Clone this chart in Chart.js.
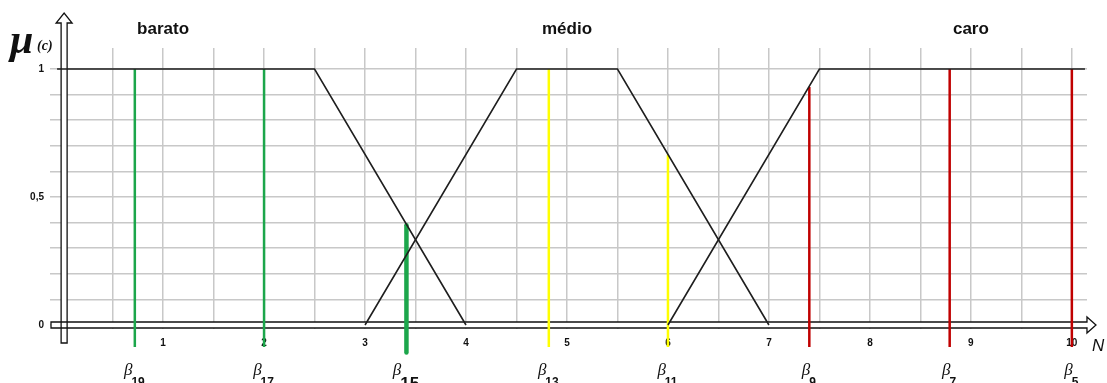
<!DOCTYPE html>
<html>
<head>
<meta charset="utf-8">
<script src="https://cdn.jsdelivr.net/npm/chart.js@4/dist/chart.umd.min.js"></script>
<style>
    html, body { margin: 0; padding: 0; background: #fff; }
</style>
</head>
<body>
<canvas id="fuzzy" width="1107" height="383"></canvas>
<script>
// fuzzy sets: [N, degree]
const setNames = ['barato', 'médio', 'caro'];
const setTitleAt = [1, 5, 9];
const baratoPts = [[-0.05, 1], [2.5, 1], [4, 0]];
const medioPts = [[3, 0], [4.5, 1], [5.5, 1], [7, 0]];
const caroPts = [[6, 0], [7.5, 1], [10.13, 1]];

// beta cuts
const betaNames = ['19', '17', '15', '13', '11', '9', '7', '5'];
const betaX = [0.72, 2.0, 3.41, 4.82, 6.0, 7.4, 8.79, 10.0];
const betaDegree = [1, 1, 0.39, 1, 0.665, 0.93, 1, 1];

// tick labels
const xTickValues = [1, 2, 3, 4, 5, 6, 7, 8, 9, 10];
const xTickText = ['1', '2', '3', '4', '5', '6', '7', '8', '9', '10'];
const yTickValues = [0, 0.5, 1];
const yTickText = ['0', '0,5', '1'];

// styles
const GREEN = '#1ca64b', YELLOW = '#ffff00', RED = '#c00000';
const betaColors = [GREEN, GREEN, GREEN, YELLOW, YELLOW, RED, RED, RED];
const betaWidths = [2.5, 2.5, 4.5, 2.5, 2.5, 2.5, 2.5, 2.5];
const STEM_END = -0.086;
const STEM_END_BIG = -0.107;

function findLabel(values, texts, v) {
    const i = values.findIndex(t => Math.abs(t - v) < 1e-6);
    return i < 0 ? '' : texts[i];
}

const toXY = pts => pts.map(p => ({ x: p[0], y: p[1] }));

const setDatasets = [baratoPts, medioPts, caroPts].map((pts, i) => ({
    label: setNames[i],
    data: toXY(pts),
    borderColor: '#1e1e1e',
    borderWidth: 1.6,
    pointRadius: 0,
    tension: 0,
    clip: false
}));

const betaDatasets = betaX.map((x, i) => ({
    label: 'beta' + betaNames[i],
    data: [
        { x: x, y: betaWidths[i] > 3 ? STEM_END_BIG : STEM_END },
        { x: x, y: betaDegree[i] }
    ],
    borderColor: betaColors[i],
    borderWidth: betaWidths[i],
    borderCapStyle: betaWidths[i] > 3 ? 'round' : 'butt',
    pointRadius: 0,
    clip: false
}));

// double-line axes with open arrow heads
const axesPlugin = {
    id: 'axes',
    beforeDatasetsDraw(chart) {
        const ctx = chart.ctx;
        const xs = chart.scales.x, ys = chart.scales.y;
        const ax = xs.getPixelForValue(0) + 2;
        const ay = ys.getPixelForValue(0);
        const right = xs.getPixelForValue(10.13);

        const yAxis = new Path2D();
        yAxis.moveTo(ax - 3, ay + 18);
        yAxis.lineTo(ax - 3, 23);
        yAxis.lineTo(ax - 8, 23);
        yAxis.lineTo(ax, 13);
        yAxis.lineTo(ax + 8, 23);
        yAxis.lineTo(ax + 3, 23);
        yAxis.lineTo(ax + 3, ay + 18);
        yAxis.closePath();

        const xAxis = new Path2D();
        xAxis.moveTo(chart.chartArea.left + 1, ay - 3);
        xAxis.lineTo(right + 2, ay - 3);
        xAxis.lineTo(right + 2, ay - 8);
        xAxis.lineTo(right + 11, ay);
        xAxis.lineTo(right + 2, ay + 8);
        xAxis.lineTo(right + 2, ay + 3);
        xAxis.lineTo(chart.chartArea.left + 1, ay + 3);
        xAxis.closePath();

        ctx.save();
        ctx.fillStyle = '#fff';
        ctx.strokeStyle = '#111';
        ctx.lineWidth = 1.3;
        ctx.fill(yAxis);
        ctx.fill(xAxis);
        ctx.stroke(yAxis);
        ctx.stroke(xAxis);
        ctx.restore();
    }
};

// set titles, beta labels, axis names
const textPlugin = {
    id: 'texts',
    afterDraw(chart) {
        const ctx = chart.ctx;
        const xs = chart.scales.x;
        ctx.save();
        ctx.fillStyle = '#111';

        ctx.font = 'bold 17px "Liberation Sans", Arial, sans-serif';
        ctx.textAlign = 'center';
        ctx.textBaseline = 'middle';
        setNames.forEach((name, i) => {
            ctx.fillText(name, xs.getPixelForValue(setTitleAt[i]), 29);
        });

        ctx.textAlign = 'left';
        ctx.textBaseline = 'alphabetic';
        betaNames.forEach((sub, i) => {
            const px = xs.getPixelForValue(betaX[i]);
            const big = betaWidths[i] > 3;
            const betaFont = 'italic 17px "Liberation Serif", "DejaVu Serif", serif';
            const subFont = big ? 'bold 17px "Liberation Sans", Arial, sans-serif'
                                : 'bold 12px "Liberation Sans", Arial, sans-serif';
            ctx.font = betaFont;
            const bw = ctx.measureText('β').width;
            ctx.font = subFont;
            const sw = ctx.measureText(sub).width;
            const start = px - (bw + sw) / 2;
            ctx.font = betaFont;
            ctx.fillText('β', start, 375);
            ctx.font = subFont;
            ctx.fillText(sub, start + bw - 1, big ? 389 : 386);
        });

        ctx.font = 'italic bold 42px "Liberation Serif", "DejaVu Serif", serif';
        ctx.fillText('μ', 10, 53);
        ctx.font = 'italic bold 14px "Liberation Serif", "DejaVu Serif", serif';
        ctx.fillText('(c)', 37, 50);

        ctx.font = 'italic 17px "Liberation Sans", Arial, sans-serif';
        ctx.fillText('N', 1092, 351);
        ctx.restore();
    }
};

new Chart(document.getElementById('fuzzy'), {
    type: 'line',
    data: { datasets: setDatasets.concat(betaDatasets) },
    options: {
        responsive: false,
        animation: false,
        devicePixelRatio: 1,
        layout: { padding: { top: 48, right: 20, bottom: 0, left: 0 } },
        plugins: {
            legend: { display: false },
            tooltip: { enabled: false }
        },
        scales: {
            x: {
                type: 'linear',
                min: -0.12,
                max: 10.15,
                border: { display: false },
                grid: { color: '#c8c8c8', lineWidth: 1.5, drawTicks: false },
                ticks: {
                    stepSize: 0.5,
                    includeBounds: false,
                    autoSkip: false,
                    maxRotation: 0,
                    padding: 8,
                    color: '#111',
                    font: { family: '"Liberation Sans", Arial, sans-serif', size: 10, weight: 'bold' },
                    callback: v => findLabel(xTickValues, xTickText, v)
                },
                afterFit: axis => { axis.height = 54; }
            },
            y: {
                type: 'linear',
                min: -0.0156,
                max: 1.082,
                border: { display: false },
                grid: { color: '#c8c8c8', lineWidth: 1.5, drawTicks: false },
                ticks: {
                    stepSize: 0.1,
                    includeBounds: false,
                    autoSkip: false,
                    padding: 6,
                    color: '#111',
                    font: { family: '"Liberation Sans", Arial, sans-serif', size: 10, weight: 'bold' },
                    callback: v => findLabel(yTickValues, yTickText, v)
                },
                afterFit: axis => { axis.width = 50; }
            }
        }
    },
    plugins: [axesPlugin, textPlugin]
});
</script>
</body>
</html>
